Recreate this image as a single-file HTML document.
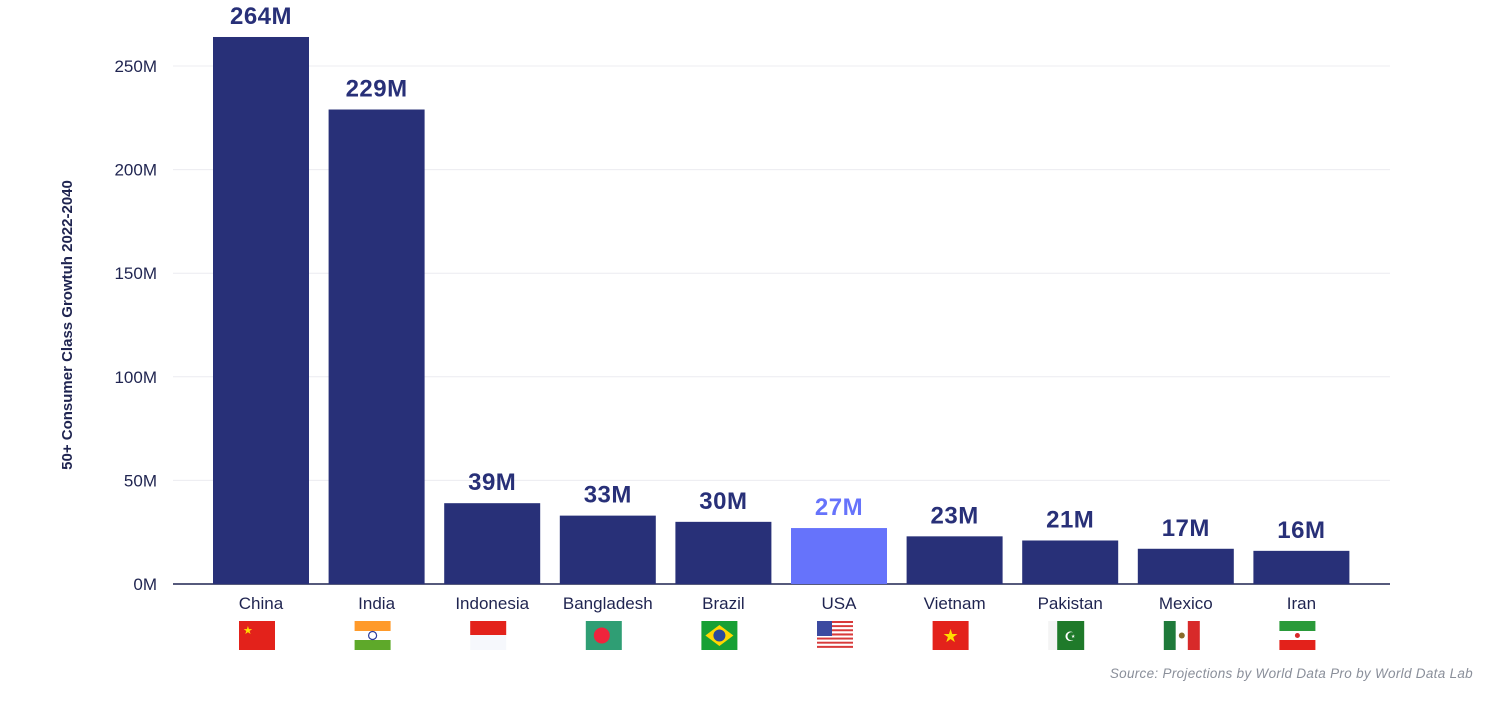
<!DOCTYPE html>
<html><head><meta charset="utf-8"><style>
body{margin:0;background:#fff;width:1498px;height:707px;overflow:hidden;font-family:"Liberation Sans",sans-serif}
</style></head><body>
<svg id="chart" width="1498" height="707" xmlns="http://www.w3.org/2000/svg">
<text transform="translate(72,325) rotate(-90)" text-anchor="middle" font-size="15" font-weight="bold" fill="#1f2450">50+ Consumer Class Growtuh 2022-2040</text>
<text x="1473" y="678" text-anchor="end" font-size="13.5" font-style="italic" fill="#8a8f9a" letter-spacing="0.3">Source: Projections by World Data Pro by World Data Lab</text>
</svg>
<script>
const categories=["China","India","Indonesia","Bangladesh","Brazil","USA","Vietnam","Pakistan","Mexico","Iran"];
const values=[264,229,39,33,30,27,23,21,17,16];
const valueLabels=["264M","229M","39M","33M","30M","27M","23M","21M","17M","16M"];
const tickValues=[0,50,100,150,200,250];
const tickLabels=["0M","50M","100M","150M","200M","250M"];
const highlight="USA";
const svg=document.getElementById('chart');
const NS="http://www.w3.org/2000/svg";
const x0=173,x1=1390,y0=584,yTop=66;
const y=v=>y0-(v/250)*(y0-yTop);
const step=115.6,first=261,bw=96;
const xc=i=>first+i*step;
function el(t,a,p){const e=document.createElementNS(NS,t);for(const k in a)e.setAttribute(k,a[k]);(p||svg).appendChild(e);return e;}
tickValues.forEach((t,i)=>{
 if(t>0){const g=el('line',{x1:x0,x2:x1,y1:y(t),y2:y(t),stroke:'#ececf0','stroke-width':1});
 
 }
 const tl=el('text',{x:157,y:y(t)+6,'text-anchor':'end','font-size':17,fill:'#1f2450'});
 tl.textContent=tickLabels[i];
 
 
});
const ax=el('line',{x1:x0,x2:x1,y1:y0,y2:y0,stroke:'#1f2450','stroke-width':1.5});


function flag(name,fx,fy,g){
 const W=36,H=29;
 const r=(x,yy,w,h,f)=>el('rect',{x:fx+x,y:fy+yy,width:w,height:h,fill:f},g);
 switch(name){
 case"China":r(0,0,W,H,'#e3221b');el('text',{x:fx+4,y:fy+13,'font-size':11,fill:'#ffde00'},g).textContent='★';break;
 case"India":r(0,0,W,10,'#ff9a2a');r(0,10,W,9,'#fff');r(0,19,W,10,'#5ea92a');el('circle',{cx:fx+18,cy:fy+14.5,r:4,fill:'none',stroke:'#2b3a9a','stroke-width':1.2},g);break;
 case"Indonesia":r(0,0,W,14,'#e3221b');r(0,14,W,15,'#f6f8fc');break;
 case"Bangladesh":r(0,0,W,H,'#2f9e74');el('circle',{cx:fx+16,cy:fy+14.5,r:8,fill:'#f0243c'},g);break;
 case"Brazil":r(0,0,W,H,'#17a034');el('polygon',{points:`${fx+4},${fy+14.5} ${fx+18},${fy+4} ${fx+32},${fy+14.5} ${fx+18},${fy+25}`,fill:'#ffd800'},g);el('circle',{cx:fx+18,cy:fy+14.5,r:6,fill:'#2b4a9a'},g);break;
 case"USA":for(let k=0;k<7;k++){r(0,k*29/7*1,W,29/14,'#d83a3a');r(0,k*29/7+29/14,W,29/14,'#fff');}r(0,0,15,15,'#3c4aa0');break;
 case"Vietnam":r(0,0,W,H,'#e3221b');el('text',{x:fx+18,y:fy+21,'font-size':18,'text-anchor':'middle',fill:'#ffde00'},g).textContent='★';break;
 case"Pakistan":r(0,0,9,H,'#f4f4f4');r(9,0,27,H,'#1f7a2a');el('text',{x:fx+22,y:fy+20,'font-size':13,'text-anchor':'middle',fill:'#fff'},g).textContent='☪';break;
 case"Mexico":r(0,0,12,H,'#1f7a3a');r(12,0,12,H,'#fff');r(24,0,12,H,'#d82a2a');el('circle',{cx:fx+18,cy:fy+14.5,r:3,fill:'#8a6a2a'},g);break;
 case"Iran":r(0,0,W,10,'#2a9a3a');r(0,10,W,9,'#fff');r(0,19,W,10,'#e3221b');el('circle',{cx:fx+18,cy:fy+14.5,r:2.5,fill:'#d82a2a'},g);break;
 }
}
categories.forEach((c,i)=>{
 const isH=c===highlight;
 const col=isH?'#6673fb':'#283078';
 const b=el('rect',{x:xc(i)-bw/2,y:y(values[i]),width:bw,height:y0-y(values[i]),fill:col});
 
 
 const vl=el('text',{x:xc(i),y:y(values[i])-13,'text-anchor':'middle','font-size':24,'font-weight':'bold',fill:col,'letter-spacing':'0.5'});
 vl.textContent=valueLabels[i];
 
 
 const cl=el('text',{x:xc(i),y:609,'text-anchor':'middle','font-size':17,fill:'#1f2450'});
 cl.textContent=c;
 
 
 const g=el('g',{});
 
 
 flag(c,xc(i)-22,621,g);
});
</script>
</body></html>
